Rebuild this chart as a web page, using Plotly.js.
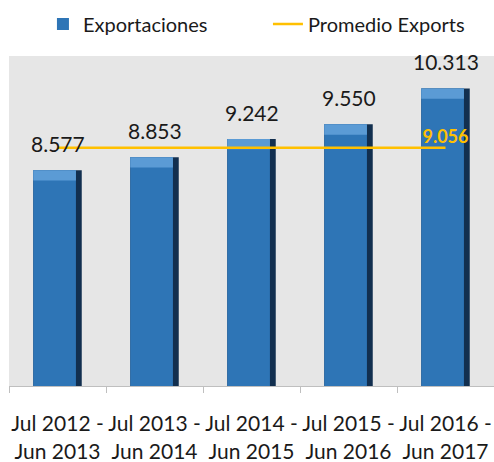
<!DOCTYPE html>
<html>
<head>
<meta charset="utf-8">
<script src="https://cdn.plot.ly/plotly-3.0.1.min.js"></script>
<style>html,body{margin:0;padding:0;background:#fff;}#chart{width:494px;height:462px;}</style>
</head>
<body>
<div id="chart"></div>
<script>
var categories = ["Jul 2012 -<br>Jun 2013", "Jul 2013 -<br>Jun 2014", "Jul 2014 -<br>Jun 2015", "Jul 2015 -<br>Jun 2016", "Jul 2016 -<br>Jun 2017"];
var exportaciones = [8.577, 8.853, 9.242, 9.550, 10.313];
var promedio = [9.056, 9.056, 9.056, 9.056, 9.056];
var barLabels = ["8.577", "8.853", "9.242", "9.550", "10.313"];
var promedioLabel = "9.056";

var FONT = "Lato, 'Open Sans', sans-serif";
var bevel = 0.22;

var traces = [
  { // dark edge (full bar)
    type: "bar", x: categories, y: exportaciones, width: 0.5,
    marker: {color: "#122f4f", line: {width: 0}},
    showlegend: false, hoverinfo: "skip"
  },
  { // main face
    type: "bar", x: categories, y: exportaciones, width: 0.44, offset: -0.25,
    marker: {color: "#2e75b6", line: {width: 0}},
    name: "Exportaciones", showlegend: true
  },
  { // top bevel
    type: "bar", x: categories, y: exportaciones.map(function(){return bevel;}),
    base: exportaciones.map(function(v){return v - bevel;}), width: 0.44, offset: -0.25,
    marker: {color: "#5b9bd5", line: {width: 0}},
    showlegend: false, hoverinfo: "skip"
  },
  {
    type: "scatter", mode: "lines+text", x: categories, y: promedio,
    name: "Promedio Exports",
    line: {color: "#ffc000", width: 2.5},
    text: ["", "", "", "", promedioLabel],
    textposition: "top center",
    textfont: {family: FONT, size: 18, color: "#ffc000", weight: "bold"},
    cliponaxis: false
  }
];

var annotations = categories.map(function(c, i){
  return {x: c, y: exportaciones[i], xref: "x", yref: "y", text: barLabels[i],
    showarrow: false, yanchor: "bottom", yshift: 12,
    font: {family: FONT, size: 21, color: "#1a1a1a"}};
});

var layout = {
  width: 494, height: 462,
  margin: {l: 9, r: 0, t: 56, b: 76, autoexpand: false},
  paper_bgcolor: "#ffffff",
  plot_bgcolor: "#e6e6e6",
  barmode: "overlay",
  showlegend: true,
  legend: {orientation: "h", x: 0.07, xanchor: "left", y: 0.99, yanchor: "top", yref: "container",
    font: {family: FONT, size: 20, color: "#1a1a1a"}, bgcolor: "rgba(0,0,0,0)",
    traceorder: "normal", entrywidth: 180, entrywidthmode: "pixels"},
  xaxis: {type: "category", showgrid: false, showline: true, linecolor: "#bfbfbf", linewidth: 1,
    ticks: "outside", tickson: "boundaries", ticklen: 6, tickcolor: "#bfbfbf", tickangle: 0,
    tickfont: {family: FONT, size: 21, color: "#1a1a1a"}, ticklabelstandoff: 19,
    fixedrange: true},
  yaxis: {range: [4, 11], visible: false, showgrid: false, zeroline: false, fixedrange: true},
  annotations: annotations
};

Plotly.newPlot("chart", traces, layout, {displayModeBar: false, staticPlot: true});
</script>
</body>
</html>
